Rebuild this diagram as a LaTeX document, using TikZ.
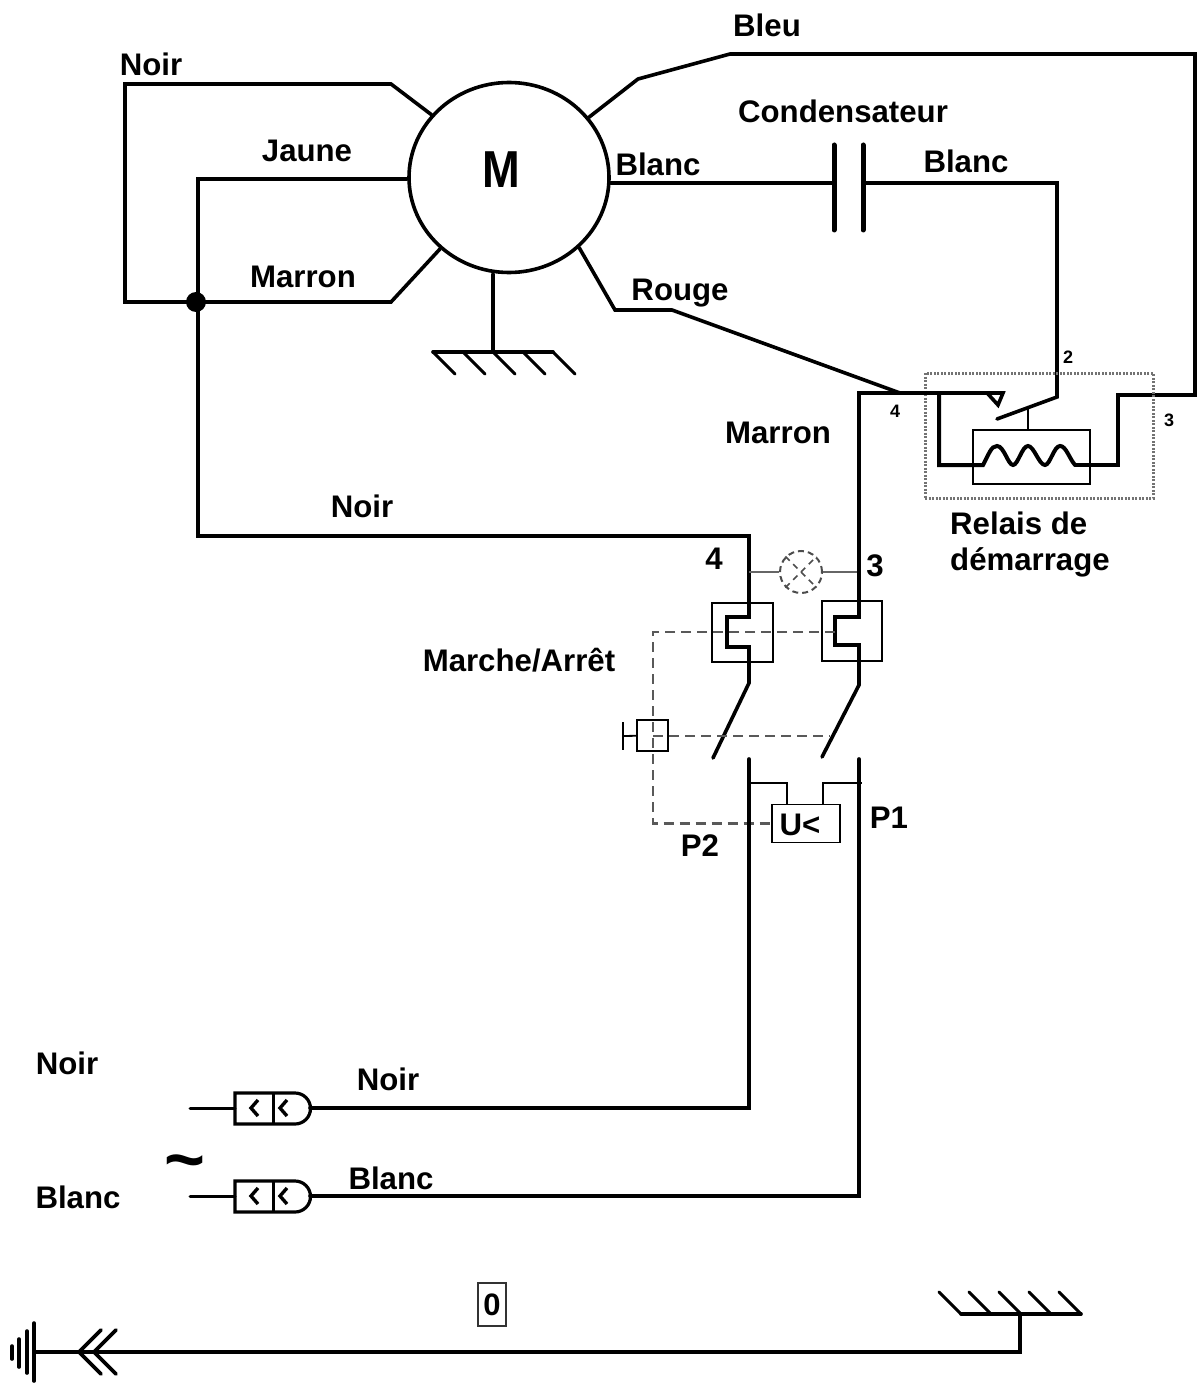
\documentclass[tikz,border=0pt]{standalone}
\usepackage{fontspec}
\setmainfont{Liberation Sans}
\usetikzlibrary{positioning}
\usetikzlibrary{shapes.geometric}
\tikzset{
    wire/.style={line width=3.6pt, line join=miter, line cap=round},
    hatch/.style={line width=3pt, line cap=round},
    thinwire/.style={line width=1.8pt},
    dashwire/.style={line width=2.2pt, black!65, dash pattern=on 10pt off 6pt},
    lbl/.style={font=\fontsize{31.2}{36}\selectfont\bfseries, inner sep=0pt},
    tiny/.style={font=\fontsize{18}{22}\selectfont\bfseries, inner sep=0pt},
}
\begin{document}
\begin{tikzpicture}[x=1pt, y=-1pt]
    \useasboundingbox (0,0) rectangle (1203,1396);
    % motor
    \node (motor) at (509,177.5) [ellipse, draw, line width=3.6pt, minimum width=200pt, minimum height=190pt, inner sep=0pt] {};
    \node (mlabel) at (501.5,170) [lbl, font=\fontsize{52}{60}\selectfont\bfseries\addfontfeature{FakeStretch=0.87}] {M};
    \coordinate (dot) at (196,302);
    \fill (dot) circle (10pt);
    % motor wires
    \draw[wire] (motor.141) -- (391,84) -- (125,84) -- (125,302) -- (dot) -- (391,302) -- (motor.226);
    \coordinate (jaunec) at (198,179);
    \draw[wire] (motor.west |- jaunec) -- (jaunec) -- (198,536) -- (749,536) -- (749,617)
        -- (727,617) -- (727,647) -- (749,647) -- (749,683) -- (713,758);
    \coordinate (coilout) at (1075,465);
    \draw[wire] (motor.37) -- (638,79) -- (730,54) -- (1195,54) -- (1195,395) -- (1118,395)
        -- (1118,465) -- (coilout);
    \coordinate (jrouge) at (900,393);
    \draw[wire] (motor.315) -- (615,310) -- (672,310) -- (jrouge);
    % capacitor
    \coordinate (capa) at (834,183);
    \coordinate (capb) at (863,183);
    \draw[wire] (motor.east |- capa) -- (capa);
    \draw[wire, line width=5pt] (834,145) -- (834,230);
    \draw[wire, line width=5pt] (863,145) -- (863,230);
    \draw[wire] (capb) -- (1057,183) -- (1057,397) -- (997,419);
    % ground of the motor
    \coordinate (gnda) at (493,352);
    \draw[wire] (gnda |- motor.south) -- (gnda);
    \draw[wire] (433,352) -- (553,352);
    \foreach \x in {0,1,2,3,4}
        \draw[hatch] ({433+30*\x},352) -- ({455+30*\x},374);
    % relay
    \node (relay) at (1039,435.5) [draw, black!55, dash pattern=on 2pt off 1.5pt, line width=3pt, minimum width=228pt, minimum height=125pt, inner sep=0pt] {};
    \node (coil) at (1031.5,457) [draw, line width=1.8pt, minimum width=117pt, minimum height=54pt, inner sep=0pt] {};
    \draw[wire] (859,560) -- (859,393) -- (1003,393) -- (998,405) -- (988,394);
    \draw[wire, line width=4pt] (939,393) -- (939,465) -- (983,465)
        .. controls (989,454) and (991,446) .. (997,446)
        .. controls (1004,446) and (1008,465) .. (1013,465)
        .. controls (1018,465) and (1022,446) .. (1028,446)
        .. controls (1034,446) and (1039,465) .. (1045,465)
        .. controls (1050,465) and (1054,446) .. (1060,446)
        .. controls (1066,446) and (1069,458) .. (coilout);
    \draw[wire, line width=2.6pt] (1028,408) -- (coil.north -| 1028,408);
    % lamp
    \node (lamp) at (801,572) [circle, draw, dash pattern=on 6pt off 4pt, line width=2pt, minimum size=42pt, inner sep=0pt, black!70] {};
    \draw[thinwire, black!60] (749,572) -- (lamp);
    \draw[thinwire, black!60] (lamp) -- (858,572);
    \draw[line width=1.6pt, black!70, dash pattern=on 6pt off 5pt] (lamp.north west) -- (lamp.south east);
    \draw[line width=1.6pt, black!70, dash pattern=on 6pt off 5pt] (lamp.south west) -- (lamp.north east);
    % switch
    \node (boxl) at (742.5,632.5) [draw, line width=2.6pt, minimum width=61pt, minimum height=59pt, inner sep=0pt] {};
    \node (boxr) at (852,631) [draw, line width=1.6pt, minimum width=60pt, minimum height=60pt, inner sep=0pt] {};
    \draw[wire] (859,560) -- (859,617) -- (835,617) -- (835,645) -- (859,645) -- (859,685) -- (822,757);
    \node (under) at (806,823.5) [draw, line width=1.8pt, minimum width=68pt, minimum height=38pt, inner sep=0pt] {};
    \draw[dashwire] (835,632) -- (653,632) -- (653,823.5) -- (under.west);
    \draw[dashwire, line width=1.8pt] (653,736) -- (830,736);
    \node (knob) at (652.5,735.5) [draw, line width=2.2pt, minimum size=31pt, inner sep=0pt] {};
    \coordinate (bar) at (623,736);
    \draw[line width=2pt] (623,722) -- (623,750);
    \draw[line width=1.8pt] (bar) -- (knob);
    % contacts and U<
    \coordinate (pa) at (310,1108);
    \coordinate (pb) at (310,1196);
    \draw[wire] (749,759) -- (749,1108) -- (pa);
    \draw[wire] (859,759) -- (859,1196) -- (pb);
    \draw[thinwire] (749,783) -- (787,783) -- (787,783 |- under.north);
    \draw[thinwire] (823,783 |- under.north) -- (823,783) -- (862,783);
    \node (ulabel) at (800,825) [lbl] {U<};
    % plugs
    \foreach \y in {1108,1196} {
        \draw[wire, line width=3pt] (190,\y) -- (235,\y);
        \draw[line width=3.2pt] (235,\y-15) -- (295,\y-15)
            arc[start angle=90, end angle=-90, radius=15.5pt] -- (235,\y+16) -- cycle;
        \draw[line width=3pt] (273,\y-15) -- (273,\y+16);
        \draw[line width=3.4pt] (258,\y-8) -- (251,\y) -- (258,\y+8);
        \draw[line width=3.4pt] (287,\y-8) -- (280,\y) -- (287,\y+8);
    }
    % earth line
    \coordinate (earth) at (34,1352);
    \coordinate (gndb) at (1020,1314);
    \draw[wire] (earth) -- (1020,1352) -- (gndb);
    \draw[wire] (961,1314) -- (1081,1314);
    \foreach \x in {0,1,2,3,4}
        \draw[hatch] ({939+30*\x},1292) -- ({961+30*\x},1314);
    \draw[wire] (101,1330) -- (79,1352) -- (101,1374);
    \draw[wire] (116,1330) -- (94,1352) -- (116,1374);
    \draw[wire] (34,1323) -- (34,1381);
    \draw[wire] (27,1331) -- (27,1373);
    \draw[wire] (19,1339) -- (19,1367);
    \draw[wire] (12,1346) -- (12,1359);
    % labels
    \path
        node (noira) at (151,64) [lbl] {Noir}
        node (bleu) at (767,25) [lbl] {Bleu}
        node (cond) at (843,111) [lbl] {Condensateur}
        node (jaune) at (307,151) [lbl] {Jaune}
        node (blanca) at (658,164) [lbl] {Blanc}
        node (blancb) at (966,161) [lbl] {Blanc}
        node (marrona) at (303,277) [lbl] {Marron}
        node (rouge) at (680,293) [lbl] {Rouge}
        node (marronb) at (778,433) [lbl] {Marron}
        node (noirb) at (362,506) [lbl] {Noir}
        node (relais) at (950,523) [lbl, anchor=west] {Relais de}
        node (demarrage) at (950,562) [lbl, anchor=west] {démarrage}
        node (quatre) at (714,559) [lbl] {4}
        node (trois) at (875,566) [lbl] {3}
        node (marche) at (519,660) [lbl] {Marche/Arrêt}
        node (pun) at (889,818) [lbl] {P1}
        node (pdeux) at (700,846) [lbl] {P2}
        node (noirc) at (67,1063) [lbl] {Noir}
        node (noird) at (388,1079) [lbl] {Noir}
        node (blancc) at (78,1197) [lbl] {Blanc}
        node (blancd) at (391,1178) [lbl] {Blanc}
        node (tilde) at (185,1169) [lbl, font=\fontsize{70}{76}\selectfont\bfseries] {\char"7E}
        node (zero) at (492,1304.5) [draw, black!80, line width=2pt, minimum width=28pt, minimum height=43pt, inner sep=0pt, text=black, font=\fontsize{31}{36}\selectfont\bfseries] {0\hspace{7pt}}
        node (deux) at (1068,357) [tiny] {2}
        node (qrelais) at (895,411) [tiny] {4}
        node (trelais) at (1169,420) [tiny] {3};
\end{tikzpicture}
\end{document}
